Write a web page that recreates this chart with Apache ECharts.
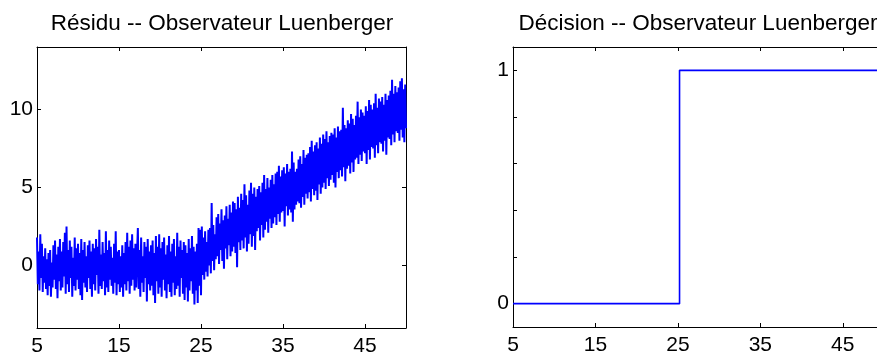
<!DOCTYPE html>
<html>
<head>
<meta charset="utf-8">
<script src="https://cdn.jsdelivr.net/npm/echarts@6.0.0/dist/echarts.min.js"></script>
<style>
  html, body { margin: 0; padding: 0; background: #fff; }
  #main { width: 877px; height: 354px; }
</style>
</head>
<body>
<div id="main"></div>
<script>
// residual signal, sampled from t = 5 every 0.1 (one row per unit of t)
const residuT0 = 5;
const residuDt = 0.1;
const residu = [
  1.8, -1.2, 0.9, -1.6, 2.0, -0.8, 1.4, -1.7, 0.6, -1.1,
  1.1, -1.5, 0.4, -1.9, 0.8, -1.3, 1.0, -2.0, 0.2, -1.4,
  1.3, -0.9, 1.6, -1.5, 0.7, -2.1, 1.2, -1.0, 1.7, -1.6,
  0.9, -1.4, 1.5, -0.7, 2.1, -1.8, 2.5, -1.2, 1.0, -1.7,
  1.6, -0.8, 1.2, -2.0, 0.5, -1.3, 1.8, -1.6, 1.1, -0.9,
  1.4, -1.5, 0.8, -1.9, 1.7, -2.2, 1.0, -1.1, 1.5, -1.4,
  0.6, -1.7, 1.3, -0.8, 1.6, -1.5, 0.9, -2.0, 1.4, -1.2,
  1.1, -1.6, 1.7, -0.6, 1.2, -1.8, 2.3, -1.3, 0.7, -1.5,
  1.5, -1.0, 0.8, -1.9, 2.2, -1.4, 1.0, -1.7, 1.6, -0.9,
  1.2, -1.3, 0.5, -1.8, 1.4, -1.1, 2.2, -1.9, 0.9, -1.2,
  1.0, -1.7, 0.6, -1.4, 1.3, -2.0, 0.8, -1.2, 1.5, -1.6,
  2.1, -1.0, 1.2, -1.8, 1.6, -1.3, 2.0, -0.9, 1.1, -1.6,
  1.4, -1.4, 0.7, 2.4, -1.5, 1.0, -2.0, 1.8, -1.1, 0.6,
  -1.7, 1.5, -0.8, 1.2, -2.3, 1.7, -1.2, 0.9, -1.6, 1.3,
  -1.3, 1.6, -1.9, 0.8, -2.4, 1.9, -1.0, 1.2, -1.8, 2.0,
  -1.4, 1.1, -2.0, 1.5, -0.9, 1.8, -1.6, 0.7, -2.1, 1.3,
  -1.2, 1.9, -1.7, 0.9, -2.0, 1.4, -1.1, 1.7, -1.9, 0.6,
  -1.5, 2.1, -1.3, 1.2, -2.0, 1.6, -0.8, 1.0, -1.8, 1.5,
  -2.2, 1.3, -1.4, 0.8, -2.3, 1.7, -1.6, 1.1, -1.0, 1.9,
  -1.8, 1.2, -2.5, 0.9, -1.6, 1.4, -2.4, 2.4, -1.3, 2.3,
  -1.9, 2.5, -0.6, 1.8, -0.9, 2.2, -0.4, 1.5, -0.7, 2.3,
  0.0, 2.4, -0.5, 4.0, 0.3, 2.6, -0.3, 2.0, 0.4, 3.1,
  0.6, 3.3, 0.1, 2.7, 1.0, 3.6, 0.3, 2.9, -0.2, 3.2,
  1.1, 3.8, 0.4, 3.0, 1.3, 3.9, 0.6, 3.4, 0.9, 4.1,
  1.2, 4.0, 0.8, 3.6, -0.1, 4.4, 1.5, 3.7, 1.0, 4.6,
  1.6, 4.2, 1.1, 5.2, 1.8, 4.5, 0.9, 3.9, 1.4, 4.8,
  2.0, 5.3, 1.2, 4.6, 1.9, 5.0, 1.0, 4.4, 2.2, 4.9,
  2.4, 5.1, 1.6, 4.7, 2.6, 5.3, 1.8, 5.8, 2.3, 4.9,
  2.8, 5.6, 2.1, 5.0, 3.0, 5.5, 2.4, 5.8, 2.7, 5.2,
  3.1, 5.9, 2.6, 6.0, 3.3, 6.4, 2.8, 5.7, 3.4, 6.1,
  3.5, 6.3, 2.5, 5.9, 3.8, 6.5, 3.2, 6.0, 3.6, 6.2,
  3.4, 7.3, 2.8, 6.6, 3.6, 6.0, 3.9, 6.2, 4.1, 6.8,
  4.0, 7.0, 3.7, 6.5, 4.4, 7.4, 3.9, 6.9, 4.6, 7.1,
  4.3, 7.2, 4.7, 7.6, 4.1, 8.0, 4.9, 7.3, 4.5, 7.7,
  4.8, 7.9, 4.2, 7.5, 5.2, 8.2, 4.6, 7.8, 5.0, 8.4,
  5.3, 8.1, 4.9, 8.6, 5.6, 7.9, 5.1, 8.3, 5.5, 8.5,
  5.8, 8.4, 5.3, 8.8, 5.0, 8.2, 6.0, 8.9, 5.6, 8.6,
  6.1, 8.7, 5.7, 10.1, 6.3, 9.0, 5.4, 8.8, 6.2, 9.3,
  6.4, 9.1, 5.9, 9.7, 6.6, 9.4, 6.0, 9.0, 6.8, 9.6,
  6.9, 10.5, 6.5, 9.5, 7.1, 10.0, 6.7, 9.8, 7.3, 9.6,
  7.2, 10.2, 6.5, 9.9, 7.4, 10.6, 6.8, 10.3, 7.6, 10.0,
  7.5, 10.4, 6.9, 11.0, 7.7, 10.1, 7.2, 10.7, 7.9, 10.5,
  7.8, 10.8, 7.3, 10.3, 8.0, 11.0, 7.1, 10.6, 8.2, 10.9,
  8.1, 11.2, 7.7, 11.9, 8.4, 11.0, 7.9, 11.5, 8.6, 11.1,
  8.5, 11.4, 8.0, 11.8, 8.7, 12.0, 8.2, 11.3, 7.9, 11.6,
  8.8
];

// decision signal (step)
const decisionT = [5, 25.2, 25.2, 50];
const decisionV = [0, 0, 1, 1];

// ticks
const xTicks = [5, 15, 25, 35, 45];
const residuTicks = [0, 5, 10];
const decisionTicks = [0, 0.2, 0.4, 0.6, 0.8, 1];
const decisionLabels = [0, 1];

const titles = ['Résidu -- Observateur Luenberger', 'Décision -- Observateur Luenberger'];

const FONT = 'Liberation Sans, Arial, Helvetica, sans-serif';

let chart = echarts.init(document.getElementById('main'), null, { renderer: 'canvas' });

function makeAxis(gridIndex, position, min, max, ticks, labels) {
    return {
        type: 'value',
        gridIndex: gridIndex,
        position: position,
        min: min,
        max: max,
        axisLine: { show: true, onZero: false, lineStyle: { color: '#000', width: 1 } },
        axisTick: { show: true, inside: true, length: 4, customValues: ticks, lineStyle: { color: '#000', width: 1 } },
        axisLabel: labels ? {
            show: true,
            customValues: labels,
            color: '#000',
            fontFamily: FONT,
            fontSize: 21,
            margin: (position === 'left') ? 4 : 8
        } : { show: false },
        splitLine: { show: false }
    };
}

let residuData = residu.map(function (v, i) {
    return [residuT0 + i * residuDt, v];
});
let decisionData = decisionT.map(function (t, i) {
    return [t, decisionV[i]];
});

let option = {
    animation: false,
    backgroundColor: '#fff',
    title: [
        {
            text: titles[0], left: 222, top: 12, padding: 0, textAlign: 'center',
            textStyle: { fontFamily: FONT, fontSize: 22.5, fontWeight: 'normal', color: '#000' }
        },
        {
            text: titles[1], left: 698, top: 12, padding: 0, textAlign: 'center',
            textStyle: { fontFamily: FONT, fontSize: 22.5, fontWeight: 'normal', color: '#000' }
        }
    ],
    grid: [
        { left: 37, top: 47, width: 369, height: 281, outerBoundsMode: 'none', containLabel: false },
        { left: 513, top: 47, width: 371, height: 280, outerBoundsMode: 'none', containLabel: false }
    ],
    xAxis: [
        makeAxis(0, 'bottom', 5, 50, xTicks, xTicks),
        makeAxis(0, 'top', 5, 50, xTicks, null),
        makeAxis(1, 'bottom', 5, 50, xTicks, xTicks),
        makeAxis(1, 'top', 5, 50, xTicks, null)
    ],
    yAxis: [
        makeAxis(0, 'left', -4, 14, residuTicks, residuTicks),
        makeAxis(0, 'right', -4, 14, residuTicks, null),
        makeAxis(1, 'left', -0.1, 1.1, decisionTicks, decisionLabels),
        makeAxis(1, 'right', -0.1, 1.1, decisionTicks, null)
    ],
    series: [
        {
            name: 'residu',
            type: 'line',
            xAxisIndex: 0,
            yAxisIndex: 0,
            data: residuData,
            showSymbol: false,
            symbol: 'none',
            sampling: null,
            lineStyle: { color: '#0000ff', width: 2 },
            z: 1
        },
        {
            name: 'decision',
            type: 'line',
            xAxisIndex: 2,
            yAxisIndex: 2,
            data: decisionData,
            showSymbol: false,
            symbol: 'none',
            lineStyle: { color: '#0000ff', width: 1.6 },
            z: 1
        }
    ]
};
option && chart.setOption(option);
</script>
</body>
</html>
